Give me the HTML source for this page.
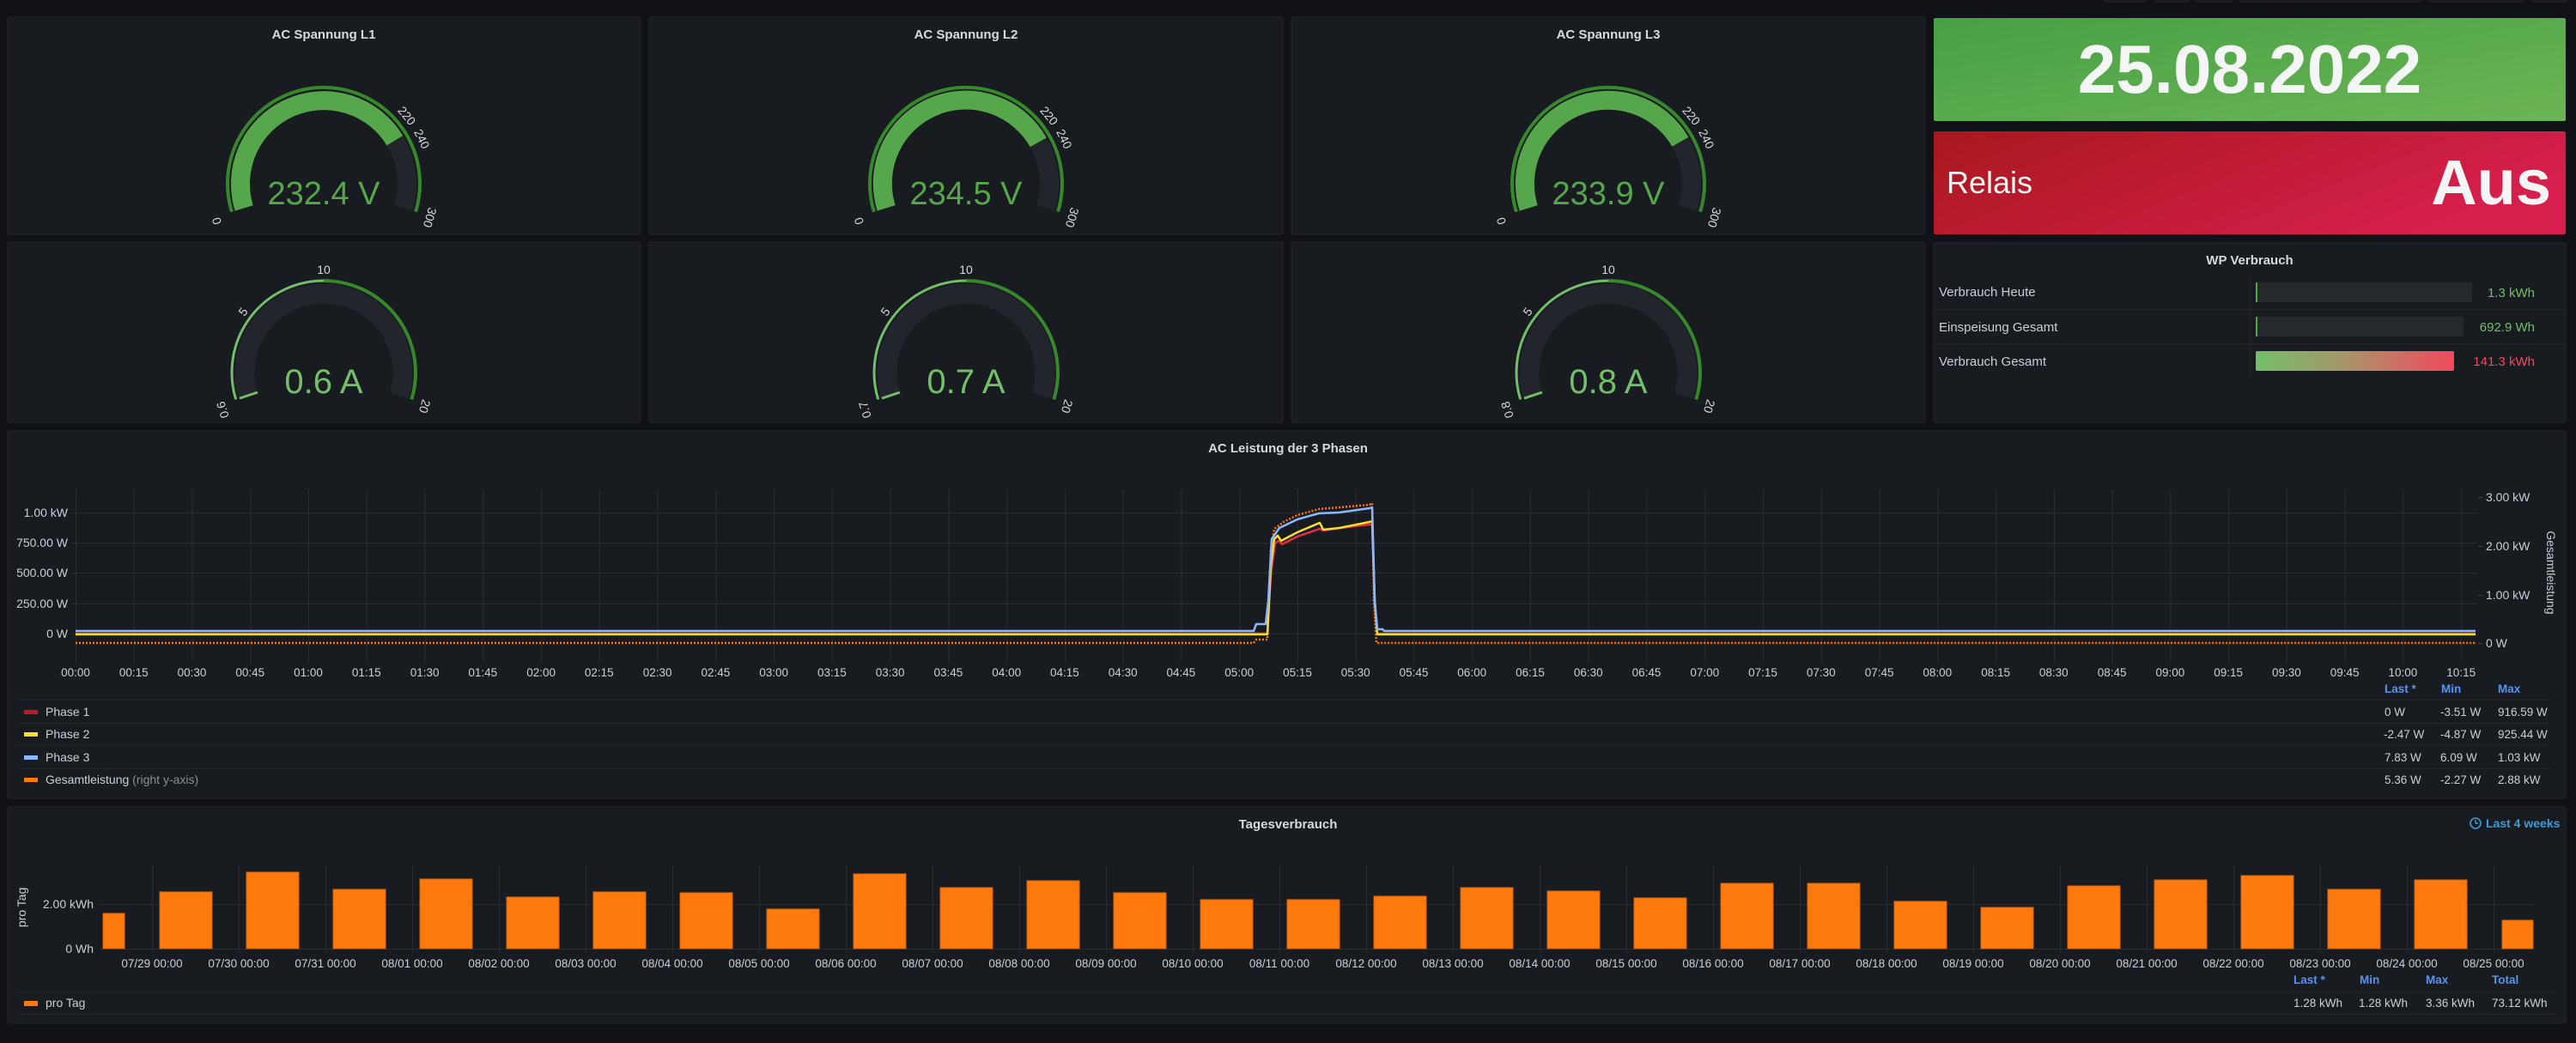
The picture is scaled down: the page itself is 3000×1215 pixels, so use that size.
<!DOCTYPE html>
<html><head><meta charset="utf-8"><style>
html,body{margin:0;padding:0;background:#111217;}
svg{display:block;font-family:"Liberation Sans",Arial,sans-serif;}
</style></head><body>
<svg width="3000" height="1215" viewBox="0 0 3000 1215" xmlns="http://www.w3.org/2000/svg">
<defs>
<linearGradient id="gG" x1="0" y1="0" x2="1" y2="1"><stop offset="0" stop-color="#47a044"/><stop offset="1" stop-color="#6bb556"/></linearGradient>
<linearGradient id="gR" x1="0" y1="0" x2="1" y2="0.4"><stop offset="0" stop-color="#a8181d"/><stop offset="1" stop-color="#d61f4c"/></linearGradient>
<linearGradient id="gB" x1="0" y1="0" x2="1" y2="0"><stop offset="0" stop-color="#73bf69"/><stop offset="0.45" stop-color="#a8956a"/><stop offset="1" stop-color="#f2495c"/></linearGradient>
<pattern id="vg" x="88" y="0" width="67.76" height="10" patternUnits="userSpaceOnUse"><rect x="0" y="0" width="1" height="10" fill="#2a2d33"/></pattern>
<pattern id="bg" x="177" y="0" width="101" height="10" patternUnits="userSpaceOnUse"><rect x="0" y="0" width="1" height="10" fill="#2a2d33"/></pattern>
</defs>
<rect width="3000" height="1215" fill="#111217"/>
<g fill="#181b1f" stroke="#24262c"><rect x="2450" y="-4" width="48" height="6" rx="2"/><rect x="2508" y="-4" width="42" height="6" rx="2"/><rect x="2558" y="-4" width="42" height="6" rx="2"/><rect x="2608" y="-4" width="210" height="6" rx="2"/><rect x="2830" y="-4" width="110" height="6" rx="2"/><rect x="2950" y="-4" width="40" height="6" rx="2"/></g>

<g fill="#181b1f" stroke="#25272d" stroke-width="1">
<rect x="9" y="20" width="737" height="253" rx="2"/>
<rect x="756" y="20" width="738" height="253" rx="2"/>
<rect x="1504" y="20" width="738" height="253" rx="2"/>
<rect x="9" y="282" width="737" height="210" rx="2"/>
<rect x="756" y="282" width="738" height="210" rx="2"/>
<rect x="1504" y="282" width="738" height="210" rx="2"/>
<rect x="2252" y="283" width="736" height="209" rx="2"/>
<rect x="9" y="502" width="2979" height="428" rx="2"/>
<rect x="9" y="940" width="2979" height="252" rx="2"/>
</g>
<rect x="2252" y="21" width="736" height="120" rx="2" fill="url(#gG)"/>
<rect x="2252" y="153" width="736" height="120" rx="2" fill="url(#gR)"/>
<text x="2620" y="108" fill="#f4f5f5" font-size="80" font-weight="bold" text-anchor="middle">25.08.2022</text>
<text x="2267" y="225" fill="#f4f5f5" font-size="36">Relais</text>
<text x="2971" y="238" fill="#f4f5f5" font-size="74" font-weight="bold" text-anchor="end">Aus</text>

<g fill="#d8d9da" font-size="15" font-weight="bold" text-anchor="middle">
<text x="377" y="45">AC Spannung L1</text>
<text x="1125" y="45">AC Spannung L2</text>
<text x="1873" y="45">AC Spannung L3</text>
<text x="2620" y="308">WP Verbrauch</text>
<text x="1500" y="527">AC Leistung der 3 Phasen</text>
<text x="1500" y="965">Tagesverbrauch</text>
</g>

<g transform="translate(377,214)">
<path d="M-107.1 32.7 A112 112 0 1 1 107.1 32.7" fill="none" stroke="#37872d" stroke-width="4"/>
<path d="M-92.8 28.4 A97 97 0 0 1 82.9 -50.2" fill="none" stroke="#56a64b" stroke-width="22"/>
<path d="M82.9 -50.2 A97 97 0 0 1 92.8 28.4" fill="none" stroke="#22252b" stroke-width="22"/>
<text x="0" y="24" fill="#56a64b" font-size="38" text-anchor="middle">232.4 V</text>
<g fill="#d8d9da" font-size="14" text-anchor="middle">
<text transform="translate(-120,42) rotate(-107)">0</text>
<text transform="translate(93,-76) rotate(50)">220</text>
<text transform="translate(110,-50) rotate(64)">240</text>
<text transform="translate(119,38) rotate(107)">300</text>
</g></g>
<g transform="translate(1125,214)">
<path d="M-107.1 32.7 A112 112 0 1 1 107.1 32.7" fill="none" stroke="#37872d" stroke-width="4"/>
<path d="M-92.8 28.4 A97 97 0 0 1 84.3 -48.1" fill="none" stroke="#56a64b" stroke-width="22"/>
<path d="M84.3 -48.1 A97 97 0 0 1 92.8 28.4" fill="none" stroke="#22252b" stroke-width="22"/>
<text x="0" y="24" fill="#56a64b" font-size="38" text-anchor="middle">234.5 V</text>
<g fill="#d8d9da" font-size="14" text-anchor="middle">
<text transform="translate(-120,42) rotate(-107)">0</text>
<text transform="translate(93,-76) rotate(50)">220</text>
<text transform="translate(110,-50) rotate(64)">240</text>
<text transform="translate(119,38) rotate(107)">300</text>
</g></g>
<g transform="translate(1873,214)">
<path d="M-107.1 32.7 A112 112 0 1 1 107.1 32.7" fill="none" stroke="#37872d" stroke-width="4"/>
<path d="M-92.8 28.4 A97 97 0 0 1 83.9 -48.7" fill="none" stroke="#56a64b" stroke-width="22"/>
<path d="M83.9 -48.7 A97 97 0 0 1 92.8 28.4" fill="none" stroke="#22252b" stroke-width="22"/>
<text x="0" y="24" fill="#56a64b" font-size="38" text-anchor="middle">233.9 V</text>
<g fill="#d8d9da" font-size="14" text-anchor="middle">
<text transform="translate(-120,42) rotate(-107)">0</text>
<text transform="translate(93,-76) rotate(50)">220</text>
<text transform="translate(110,-50) rotate(64)">240</text>
<text transform="translate(119,38) rotate(107)">300</text>
</g></g>

<g transform="translate(377,434)">
<path d="M-102.3 31.3 A107 107 0 0 1 0 -107" fill="none" stroke="#73bf69" stroke-width="3"/>
<path d="M0 -107 A107 107 0 0 1 102.3 31.3" fill="none" stroke="#37872d" stroke-width="4"/>
<path d="M-88 26.9 A92 92 0 1 1 88 26.9" fill="none" stroke="#22252b" stroke-width="23"/>
<line x1="-98" y1="30" x2="-77" y2="23" stroke="#73bf69" stroke-width="3"/>
<text x="0" y="24" fill="#73bf69" font-size="40" text-anchor="middle">0.6 A</text>
<g fill="#d8d9da" font-size="14" text-anchor="middle">
<text x="0" y="-115">10</text>
<text transform="translate(-90,-68) rotate(-53)">5</text>
<text transform="translate(-113,42) rotate(-107)">0.6</text>
<text transform="translate(113,38) rotate(107)">20</text>
</g></g>
<g transform="translate(1125,434)">
<path d="M-102.3 31.3 A107 107 0 0 1 0 -107" fill="none" stroke="#73bf69" stroke-width="3"/>
<path d="M0 -107 A107 107 0 0 1 102.3 31.3" fill="none" stroke="#37872d" stroke-width="4"/>
<path d="M-88 26.9 A92 92 0 1 1 88 26.9" fill="none" stroke="#22252b" stroke-width="23"/>
<line x1="-98" y1="30" x2="-77" y2="23" stroke="#73bf69" stroke-width="3"/>
<text x="0" y="24" fill="#73bf69" font-size="40" text-anchor="middle">0.7 A</text>
<g fill="#d8d9da" font-size="14" text-anchor="middle">
<text x="0" y="-115">10</text>
<text transform="translate(-90,-68) rotate(-53)">5</text>
<text transform="translate(-113,42) rotate(-107)">0.7</text>
<text transform="translate(113,38) rotate(107)">20</text>
</g></g>
<g transform="translate(1873,434)">
<path d="M-102.3 31.3 A107 107 0 0 1 0 -107" fill="none" stroke="#73bf69" stroke-width="3"/>
<path d="M0 -107 A107 107 0 0 1 102.3 31.3" fill="none" stroke="#37872d" stroke-width="4"/>
<path d="M-88 26.9 A92 92 0 1 1 88 26.9" fill="none" stroke="#22252b" stroke-width="23"/>
<line x1="-98" y1="30" x2="-77" y2="23" stroke="#73bf69" stroke-width="3"/>
<text x="0" y="24" fill="#73bf69" font-size="40" text-anchor="middle">0.8 A</text>
<g fill="#d8d9da" font-size="14" text-anchor="middle">
<text x="0" y="-115">10</text>
<text transform="translate(-90,-68) rotate(-53)">5</text>
<text transform="translate(-113,42) rotate(-107)">0.8</text>
<text transform="translate(113,38) rotate(107)">20</text>
</g></g>

<g fill="#c7d0d9" font-size="15">
<text x="2258" y="345">Verbrauch Heute</text>
<text x="2258" y="386">Einspeisung Gesamt</text>
<text x="2258" y="426">Verbrauch Gesamt</text>
</g>
<g fill="#25272d"><rect x="2252" y="360" width="736" height="1"/><rect x="2252" y="400" width="736" height="1"/><rect x="2620" y="322" width="1" height="120"/></g>
<rect x="2627" y="329" width="252" height="23" rx="2" fill="#25282d"/>
<rect x="2627" y="329" width="2" height="23" fill="#56a64b"/>
<rect x="2627" y="369" width="242" height="23" rx="2" fill="#25282d"/>
<rect x="2627" y="369" width="2" height="23" fill="#56a64b"/>
<rect x="2627" y="409" width="231" height="23" rx="2" fill="url(#gB)"/>
<g font-size="15" text-anchor="end">
<text x="2952" y="346" fill="#73bf69">1.3 kWh</text>
<text x="2952" y="386" fill="#73bf69">692.9 Wh</text>
<text x="2952" y="426" fill="#f2495c">141.3 kWh</text>
</g>

<rect x="88" y="570" width="2796" height="202" fill="url(#vg)"/>
<g fill="#2a2d33"><rect x="84" y="597" width="2800" height="1"/><rect x="84" y="632" width="2800" height="1"/><rect x="84" y="667" width="2800" height="1"/><rect x="84" y="703" width="2800" height="1"/><rect x="84" y="738" width="2800" height="1"/></g>
<g fill="#c7d0d9" font-size="14" text-anchor="end">
<text x="79" y="602">1.00 kW</text><text x="79" y="637">750.00 W</text><text x="79" y="672">500.00 W</text><text x="79" y="708">250.00 W</text><text x="79" y="743">0 W</text>
</g>
<g fill="#c7d0d9" font-size="14">
<text x="2895" y="584">3.00 kW</text><text x="2895" y="641">2.00 kW</text><text x="2895" y="698">1.00 kW</text><text x="2895" y="754">0 W</text>
</g>
<g fill="#444"><rect x="2886" y="579" width="5" height="1"/><rect x="2886" y="636" width="5" height="1"/><rect x="2886" y="693" width="5" height="1"/><rect x="2886" y="749" width="5" height="1"/></g>
<text transform="translate(2966,667) rotate(90)" fill="#c7d0d9" font-size="14" text-anchor="middle">Gesamtleistung</text>
<g fill="#c7d0d9" font-size="13.5" text-anchor="middle">
<text x="88" y="788">00:00</text><text x="155.8" y="788">00:15</text><text x="223.5" y="788">00:30</text><text x="291.3" y="788">00:45</text><text x="359" y="788">01:00</text><text x="426.8" y="788">01:15</text><text x="494.6" y="788">01:30</text><text x="562.3" y="788">01:45</text><text x="630.1" y="788">02:00</text><text x="697.8" y="788">02:15</text><text x="765.6" y="788">02:30</text><text x="833.4" y="788">02:45</text><text x="901.1" y="788">03:00</text><text x="968.9" y="788">03:15</text><text x="1036.6" y="788">03:30</text><text x="1104.4" y="788">03:45</text><text x="1172.2" y="788">04:00</text><text x="1239.9" y="788">04:15</text><text x="1307.7" y="788">04:30</text><text x="1375.4" y="788">04:45</text><text x="1443.2" y="788">05:00</text><text x="1511" y="788">05:15</text><text x="1578.7" y="788">05:30</text><text x="1646.5" y="788">05:45</text><text x="1714.2" y="788">06:00</text><text x="1782" y="788">06:15</text><text x="1849.8" y="788">06:30</text><text x="1917.5" y="788">06:45</text><text x="1985.3" y="788">07:00</text><text x="2053" y="788">07:15</text><text x="2120.8" y="788">07:30</text><text x="2188.6" y="788">07:45</text><text x="2256.3" y="788">08:00</text><text x="2324.1" y="788">08:15</text><text x="2391.8" y="788">08:30</text><text x="2459.6" y="788">08:45</text><text x="2527.4" y="788">09:00</text><text x="2595.1" y="788">09:15</text><text x="2662.9" y="788">09:30</text><text x="2730.6" y="788">09:45</text><text x="2798.4" y="788">10:00</text><text x="2866.2" y="788">10:15</text>
</g>
<g fill="none" stroke-linejoin="round">
<path d="M88 749 H1460 L1463 745 H1476 L1480 640 L1484 616 L1495 608 L1511 600 L1536 593 L1560 591 L1595 588 L1598 586 L1600 700 L1603 749 H2883" stroke="#ff780a" stroke-width="2.5" stroke-dasharray="2 2"/>
<path d="M88 738 H1476 L1480 670 L1485 633 L1489 630 L1493 634 L1511 625 L1537 616 L1541 618 L1560 615 L1595 611 L1598 611 L1601 700 L1604 738 H2883" stroke="#e02f44" stroke-width="2.5"/>
<path d="M88 739 H1476 L1480 660 L1484 628 L1488 624 L1492 630 L1511 620 L1537 609 L1541 617 L1560 615 L1595 608 L1598 607 L1601 700 L1604 739 H2883" stroke="#fade2a" stroke-width="2.5"/>
<path d="M88 735 H1460 L1463 727 H1474 L1477 700 L1481 628 L1490 615 L1511 605 L1536 598 L1560 597 L1595 592 L1598 591 L1601 700 L1604 733 H1610 L1612 735 H2883" stroke="#8ab8ff" stroke-width="2.5"/>
</g>
<g fill="#25272d"><rect x="20" y="815" width="2950" height="1"/><rect x="20" y="842" width="2950" height="1"/><rect x="20" y="868" width="2950" height="1"/><rect x="20" y="895" width="2950" height="1"/></g>
<rect x="28" y="827" width="16" height="5" fill="#c4162a"/>
<rect x="28" y="853" width="16" height="5" fill="#fade2a"/>
<rect x="28" y="880" width="16" height="5" fill="#8ab8ff"/>
<rect x="28" y="906" width="16" height="5" fill="#ff780a"/>
<g fill="#c7d0d9" font-size="14">
<text x="53" y="834">Phase 1</text><text x="53" y="860">Phase 2</text><text x="53" y="887">Phase 3</text><text x="53" y="913">Gesamtleistung <tspan fill="#8e8e8e">(right y-axis)</tspan></text>
</g>
<g fill="#5794f2" font-size="13.5" font-weight="bold"><text x="2777" y="807">Last *</text><text x="2843" y="807">Min</text><text x="2909" y="807">Max</text></g>
<g fill="#c7d0d9" font-size="13.5">
<text x="2777" y="834">0 W</text><text x="2842" y="834">-3.51 W</text><text x="2909" y="834">916.59 W</text>
<text x="2776" y="860">-2.47 W</text><text x="2842" y="860">-4.87 W</text><text x="2909" y="860">925.44 W</text>
<text x="2777" y="887">7.83 W</text><text x="2842" y="887">6.09 W</text><text x="2909" y="887">1.03 kW</text>
<text x="2777" y="913">5.36 W</text><text x="2842" y="913">-2.27 W</text><text x="2909" y="913">2.88 kW</text>
</g>

<g font-size="14" fill="#3d9bd9" font-weight="bold"><circle cx="2883" cy="959" r="6" fill="none" stroke="#3d9bd9" stroke-width="1.6"/><path d="M2883 955 V959 H2886" stroke="#3d9bd9" stroke-width="1.4" fill="none"/><text x="2895" y="964">Last 4 weeks</text></g>
<rect x="177" y="1008" width="2740" height="102" fill="url(#bg)"/>
<g fill="#2a2d33"><rect x="116" y="1053" width="2834" height="1"/><rect x="116" y="1105" width="2834" height="1"/></g>
<g fill="#c7d0d9" font-size="14" text-anchor="end"><text x="109" y="1058">2.00 kWh</text><text x="109" y="1110">0 Wh</text></g>
<text transform="translate(30,1057) rotate(-90)" fill="#c7d0d9" font-size="14" text-anchor="middle">pro Tag</text>
<g fill="#ff7a0c" stroke="#d9620a" stroke-width="1">
<rect x="120" y="1064" width="25" height="41"/>
<rect x="186" y="1039" width="61" height="66"/>
<rect x="287" y="1016" width="61" height="89"/>
<rect x="388" y="1036" width="61" height="69"/>
<rect x="489" y="1024" width="61" height="81"/>
<rect x="590" y="1045" width="61" height="60"/>
<rect x="691" y="1039" width="61" height="66"/>
<rect x="792" y="1040" width="61" height="65"/>
<rect x="893" y="1059" width="61" height="46"/>
<rect x="994" y="1018" width="61" height="87"/>
<rect x="1095" y="1034" width="61" height="71"/>
<rect x="1196" y="1026" width="61" height="79"/>
<rect x="1297" y="1040" width="61" height="65"/>
<rect x="1398" y="1048" width="61" height="57"/>
<rect x="1499" y="1048" width="61" height="57"/>
<rect x="1600" y="1044" width="61" height="61"/>
<rect x="1701" y="1034" width="61" height="71"/>
<rect x="1802" y="1038" width="61" height="67"/>
<rect x="1903" y="1046" width="61" height="59"/>
<rect x="2004" y="1029" width="61" height="76"/>
<rect x="2105" y="1029" width="61" height="76"/>
<rect x="2206" y="1050" width="61" height="55"/>
<rect x="2307" y="1057" width="61" height="48"/>
<rect x="2408" y="1032" width="61" height="73"/>
<rect x="2509" y="1025" width="61" height="80"/>
<rect x="2610" y="1020" width="61" height="85"/>
<rect x="2711" y="1036" width="61" height="69"/>
<rect x="2812" y="1025" width="61" height="80"/>
<rect x="2914" y="1072" width="36" height="33"/>
</g>
<g fill="#c7d0d9" font-size="13.5" text-anchor="middle">
<text x="177" y="1127">07/29 00:00</text><text x="278" y="1127">07/30 00:00</text><text x="379" y="1127">07/31 00:00</text><text x="480" y="1127">08/01 00:00</text><text x="581" y="1127">08/02 00:00</text><text x="682" y="1127">08/03 00:00</text><text x="783" y="1127">08/04 00:00</text><text x="884" y="1127">08/05 00:00</text><text x="985" y="1127">08/06 00:00</text><text x="1086" y="1127">08/07 00:00</text><text x="1187" y="1127">08/08 00:00</text><text x="1288" y="1127">08/09 00:00</text><text x="1389" y="1127">08/10 00:00</text><text x="1490" y="1127">08/11 00:00</text><text x="1591" y="1127">08/12 00:00</text><text x="1692" y="1127">08/13 00:00</text><text x="1793" y="1127">08/14 00:00</text><text x="1894" y="1127">08/15 00:00</text><text x="1995" y="1127">08/16 00:00</text><text x="2096" y="1127">08/17 00:00</text><text x="2197" y="1127">08/18 00:00</text><text x="2298" y="1127">08/19 00:00</text><text x="2399" y="1127">08/20 00:00</text><text x="2500" y="1127">08/21 00:00</text><text x="2601" y="1127">08/22 00:00</text><text x="2702" y="1127">08/23 00:00</text><text x="2803" y="1127">08/24 00:00</text><text x="2904" y="1127">08/25 00:00</text>
</g>
<g fill="#25272d"><rect x="20" y="1155" width="2958" height="1"/><rect x="20" y="1181" width="2958" height="1"/></g>
<rect x="28" y="1166" width="16" height="6" fill="#ff780a"/>
<text x="53" y="1173" fill="#c7d0d9" font-size="14">pro Tag</text>
<g fill="#5794f2" font-size="13.5" font-weight="bold"><text x="2671" y="1146">Last *</text><text x="2748" y="1146">Min</text><text x="2825" y="1146">Max</text><text x="2902" y="1146">Total</text></g>
<g fill="#c7d0d9" font-size="13.5"><text x="2671" y="1173">1.28 kWh</text><text x="2747" y="1173">1.28 kWh</text><text x="2825" y="1173">3.36 kWh</text><text x="2902" y="1173">73.12 kWh</text></g>
</svg>
</body></html>
